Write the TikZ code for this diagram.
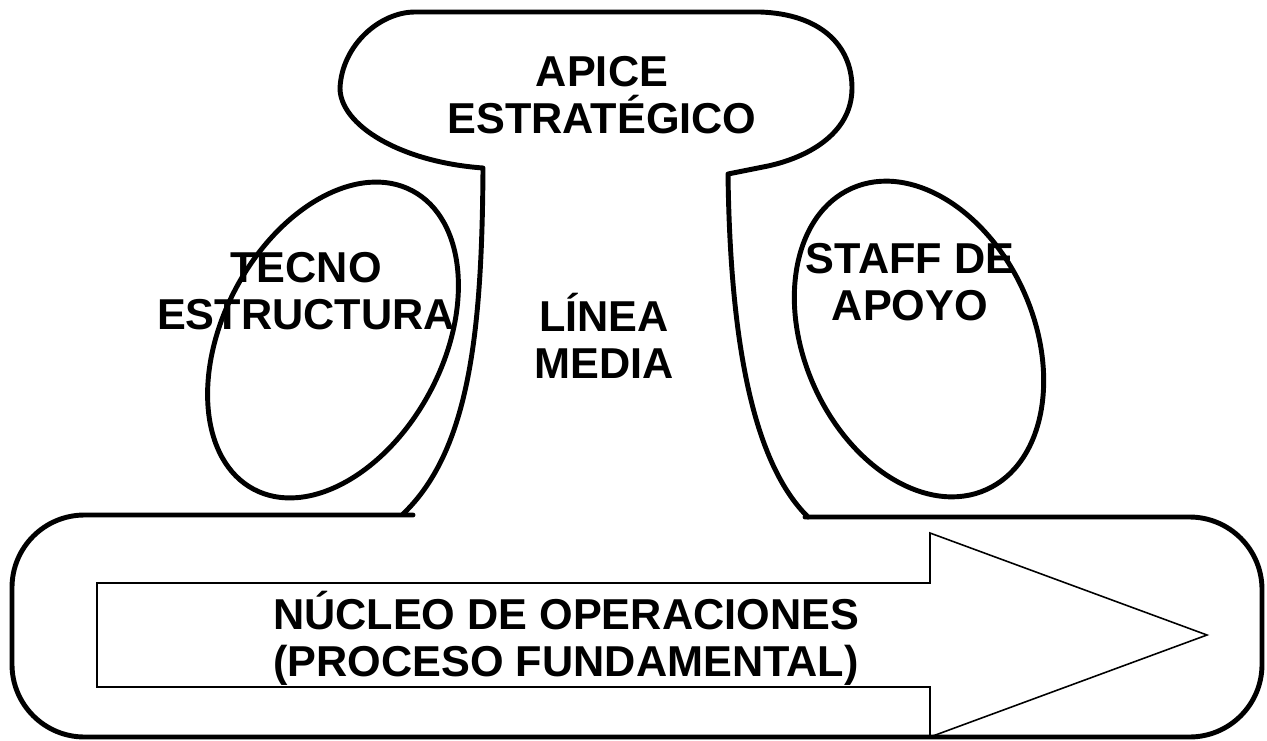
\documentclass[tikz,border=0pt]{standalone}
\usepackage{fontspec}
\setmainfont{Liberation Sans}
\begin{document}
\begin{tikzpicture}[x=0.02cm,y=-0.02cm,
  outline/.style={line width=2.8pt, line join=round, line cap=round},
  thinline/.style={line width=0.9pt, line join=miter},
  lbl/.style={font=\fontsize{24.6pt}{26.7pt}\selectfont\bfseries, align=center, inner sep=0pt}]
\useasboundingbox (0,0) rectangle (1267,740);
% apex blob with middle line stems
\draw[outline] (403,514) .. controls (470,450) and (482,330) .. (483,168)
  .. controls (400,162) and (340,125) .. (340,88)
  .. controls (342,45) and (380,12) .. (415,12)
  -- (760,12)
  .. controls (820,14) and (852,45) .. (852,88)
  .. controls (852,135) and (805,158) .. (768,166)
  -- (728,174)
  .. controls (730,330) and (750,460) .. (808,517);
% operating core outline
\draw[outline, rounded corners=1.45cm] (413,515) -- (12,515) -- (12,737) -- (1262,737) -- (1262,517) -- (805,517);
% technostructure and support staff
\draw[outline, rotate around={-28:(333,340)}] (333,340) ellipse [x radius=110, y radius=169];
\draw[outline, rotate around={24:(919,339)}] (919,339) ellipse [x radius=115, y radius=165];
% process arrow
\draw[thinline] (97,583) -- (930,583) -- (930,533) -- (1207,635) -- (930,737) -- (930,687) -- (97,687) -- cycle;
% labels
\node[lbl] (apice) at (602,95) {APICE\\ESTRATÉGICO};
\node[lbl] (tecno) at (306,291) {TECNO\\ESTRUCTURA};
\node[lbl] (linea) at (604,336) {LÍNEA\\MEDIA};
\node[lbl] (staff) at (910,282) {STAFF DE\\APOYO};
\node[lbl] (nucleo) at (566,638) {NÚCLEO DE OPERACIONES\\(PROCESO FUNDAMENTAL)};
\end{tikzpicture}
\end{document}
